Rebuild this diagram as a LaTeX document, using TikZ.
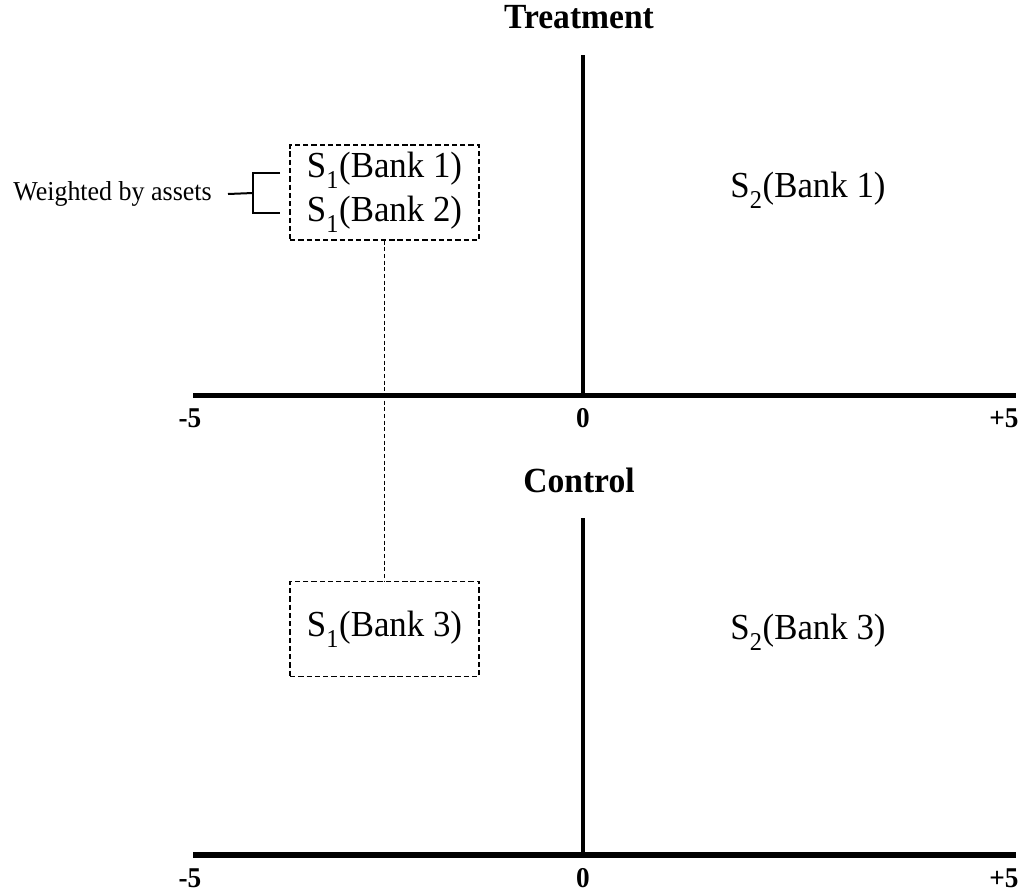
\documentclass[tikz,border=0pt]{standalone}
\usepackage{fontspec}
\setmainfont{Liberation Serif}[FakeStretch=0.95]
\usetikzlibrary{positioning}

\newcommand{\timeline}[4]{%
    \coordinate (#1-l) at (193,#2);
    \coordinate (#1-r) at (1016,#2);
    \coordinate (#1-o) at (583,#2);
    \coordinate (#1-t) at (583,#3);
    \draw[line width=3.8pt] (#1-l) -- (#1-r);
    \draw[line width=3pt] (#1-o) -- (#1-t);
    \node[tick] (#1-m5) at (190,#2+23) {-5};
    \node[tick] (#1-z) at (583,#2+23) {0};
    \node[tick] (#1-p5) at (1004,#2+23) {+5};
    \node[title, anchor=base] (#1-title) at (579,#3-#4) {\csname #1name\endcsname};
}
\newcommand{\treatname}{Treatment}
\newcommand{\ctrlname}{Control}
\newcommand{\sub}[1]{\raisebox{-0.3ex}{\textsubscript{#1}}}

\begin{document}
\begin{tikzpicture}[x=0.75pt, y=-0.75pt,
    title/.style={font=\fontsize{26.5pt}{30pt}\selectfont\bfseries, inner sep=0pt},
    tick/.style={font=\fontsize{21.5pt}{24pt}\selectfont\bfseries, inner sep=0pt},
    bank/.style={font=\fontsize{27.5pt}{33pt}\selectfont, align=center, inner sep=0pt},
    bankbox/.style={bank, draw, dashed, line width=1.1pt, dash pattern=on 4pt off 2.2pt,
        minimum width=141.75pt, minimum height=71.25pt},
    brack/.style={line width=1.5pt}]
    \useasboundingbox (0,0) rectangle (1024,893);
    % two timelines
    \timeline{treat}{395.5}{55}{27}
    \timeline{ctrl}{855}{518}{26}
    % boxes before the event
    \node[bankbox] (pre1) at (384.5,192.5) {S\sub{1}(Bank 1)\\S\sub{1}(Bank 2)};
    \node[bankbox] (pre3) at (384.5,629) {S\sub{1}(Bank 3)};
    \node[bank] (post1) at (808,190) {S\sub{2}(Bank 1)};
    \node[bank] (post3) at (808,632) {S\sub{2}(Bank 3)};
    \draw[line width=0.6pt, dash pattern=on 3pt off 2pt] (pre1.south) -- (pre3.north);
    % bracket
    \node[font=\fontsize{20.5pt}{24pt}\selectfont, inner sep=0pt, anchor=east] (weight) at (212,194) {Weighted by assets};
    \coordinate (brk) at (253,193);
    \coordinate (b1) at (280,173);
    \coordinate (b2) at (280,213);
    \draw[brack] ([xshift=12pt]weight.east) -- (brk);
    \draw[brack] (b1) -- (brk |- b1) -- (brk |- b2) -- (b2);
\end{tikzpicture}
\end{document}
